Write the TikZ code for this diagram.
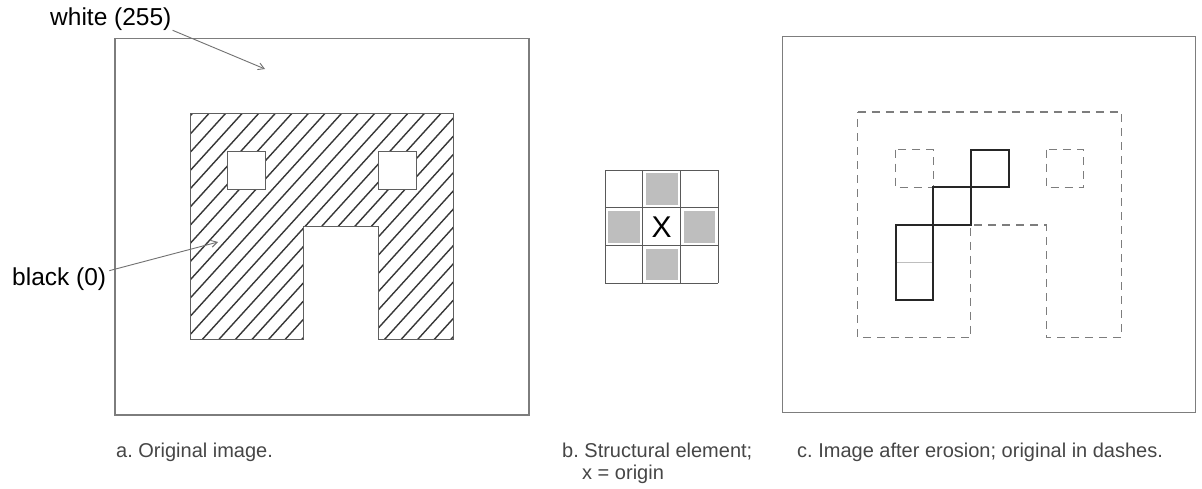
\documentclass[tikz,border=0pt]{standalone}
\usepackage{fontspec}
\setmainfont{Liberation Sans}
\usetikzlibrary{arrows.meta}
\definecolor{framegray}{RGB}{125,125,125}
\definecolor{hatchgray}{RGB}{55,55,55}
\definecolor{cellgray}{RGB}{190,190,190}
\definecolor{captgray}{RGB}{70,70,70}
\frenchspacing

\begin{document}
\begin{tikzpicture}[x=1pt, y=-1pt,
    frame/.style={draw=framegray, line width=1.1pt},
    hatch/.style={draw=hatchgray, line width=1.4pt},
    blackedge/.style={draw=hatchgray!80, line width=1pt},
    orig/.style={draw=framegray, line width=1.1pt, dash pattern=on 8pt off 6pt},
    eroded/.style={draw=black!85, line width=2pt},
    gridline/.style={draw=black!65, line width=1pt},
    lbl/.style={font=\fontsize{24.5}{28}\selectfont, inner sep=0pt, anchor=base west},
    captxt/.style={font=\fontsize{20}{23}\selectfont, text=captgray, inner sep=0pt, anchor=base west},
    ptr/.style={draw=framegray!90!black, line width=0.9pt, -{Straight Barb[length=6pt, width=7pt]}}
  ]
  \useasboundingbox[fill=white] (0,0) rectangle (1202,488);

  % a. original image
  \draw[frame] (115,38.5) rectangle (529,415);
  \begin{scope}[shift={(190.3,113.8)}, x=37.65pt, y=-37.65pt]
    \begin{scope}
      \clip (0,0) -- (7,0) -- (7,6) -- (5,6) -- (5,3) -- (3,3) -- (3,6) -- (0,6) -- cycle;
      \foreach \k in {0,...,33}
        \draw[hatch] ({-7+\k*0.44},6.3) -- ++(6,-6.6);
    \end{scope}
    \draw[blackedge] (0,0) -- (7,0) -- (7,6) -- (5,6) -- (5,3) -- (3,3) -- (3,6) -- (0,6) -- cycle;
    \draw[blackedge, fill=white] (1,1) rectangle (2,2);
    \draw[blackedge, fill=white] (5,1) rectangle (6,2);
  \end{scope}

  \node[lbl] (wlabel) at (50,25) {white (255)};
  \coordinate (wtip) at (265,69);
  \draw[ptr] ([xshift=1pt]wlabel.south east) -- (wtip);

  \node[lbl] (blabel) at (12,285) {black (0)};
  \coordinate (btip) at (218,242);
  \draw[ptr] ([xshift=3pt, yshift=8pt]blabel.east) -- (btip);

  % b. structural element
  \begin{scope}[shift={(605,170)}, x=37.8pt, y=-37.8pt]
    \foreach \c/\r in {1/0, 0/1, 2/1, 1/2}
      \fill[cellgray] (\c+0.08,\r+0.08) rectangle (\c+0.92,\r+0.92);
    \foreach \i in {0,...,3} {
      \draw[gridline] (\i,0) -- (\i,3);
      \draw[gridline] (0,\i) -- (3,\i);
    }
    \node[font=\fontsize{30}{30}\selectfont, inner sep=0pt] (origin) at (1.5,1.5) {X};
  \end{scope}

  % c. after erosion
  \draw[frame] (782.7,36.7) rectangle (1195.7,412.7);
  \begin{scope}[shift={(857.9,112)}, x=37.65pt, y=-37.65pt]
    \draw[orig] (0,0) -- (7,0) -- (7,6) -- (5,6) -- (5,3) -- (3,3) -- (3,6) -- (0,6) -- cycle;
    \draw[orig] (1,1) rectangle (2,2);
    \draw[orig] (5,1) rectangle (6,2);
    \draw[cellgray, line width=1pt] (1,4) -- (2,4);
    \draw[eroded] (3,1) rectangle (4,2);
    \draw[eroded] (2,2) rectangle (3,3);
    \draw[eroded] (1,3) rectangle (2,5);
  \end{scope}

  % captions
  \node[captxt] (capa) at (116,457) {a. Original image.};
  \node[captxt] (capb) at (562,457) {b. Structural element;};
  \node[captxt] (capbx) at (582,479) {x = origin};
  \node[captxt] (capc) at (797,457) {c. Image after erosion; original in dashes.};
\end{tikzpicture}
\end{document}
